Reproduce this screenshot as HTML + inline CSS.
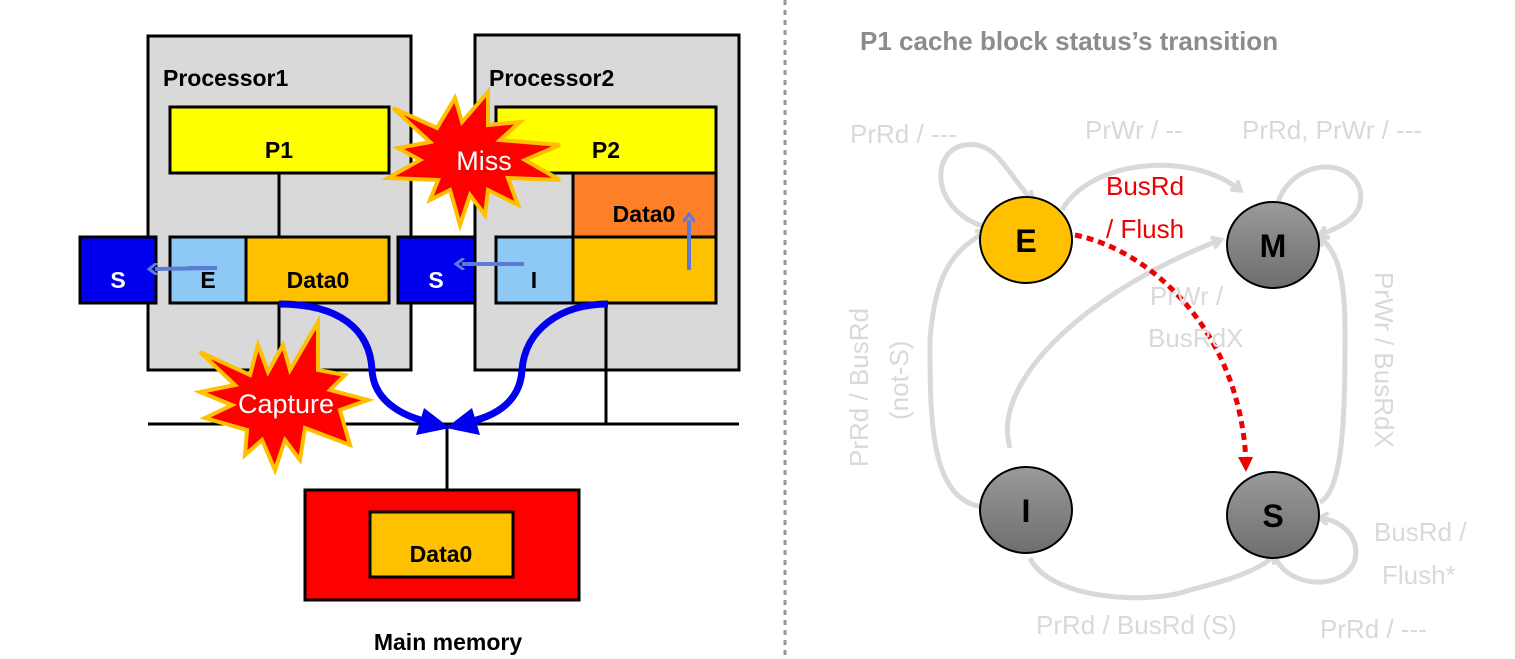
<!DOCTYPE html>
<html><head><meta charset="utf-8"><style>
html,body{margin:0;padding:0;background:#fff;width:1515px;height:659px;overflow:hidden}
svg{display:block}
text{font-family:"Liberation Sans",sans-serif}
</style></head><body>
<svg width="1515" height="659" viewBox="0 0 1515 659">
<defs>
<linearGradient id="g" x1="0" y1="0" x2="0" y2="1"><stop offset="0" stop-color="#9a9a9a"/><stop offset="1" stop-color="#6e6e6e"/></linearGradient>
<marker id="ah" markerWidth="12" markerHeight="12" refX="4" refY="6" orient="auto" markerUnits="userSpaceOnUse"><path d="M10,0 L2,6 L10,12" fill="none" stroke="#5b7bd5" stroke-width="3" transform="rotate(180 6 6)"/></marker>
<marker id="gh" markerWidth="14" markerHeight="14" refX="10" refY="7" orient="auto" markerUnits="userSpaceOnUse"><path d="M2,1 L11,7 L2,13" fill="none" stroke="#d9d9d9" stroke-width="4"/></marker>
</defs>
<rect x="148" y="36" width="263" height="334" fill="#d9d9d9" stroke="#000" stroke-width="3"/>
<rect x="475" y="35" width="264" height="335" fill="#d9d9d9" stroke="#000" stroke-width="3"/>
<text x="163" y="86" font-size="23" font-weight="bold">Processor1</text>
<text x="489" y="86" font-size="23" font-weight="bold">Processor2</text>
<line x1="279" y1="173" x2="279" y2="237" stroke="#000" stroke-width="3"/>
<line x1="279" y1="303" x2="279" y2="424" stroke="#000" stroke-width="3"/>
<line x1="606" y1="303" x2="606" y2="424" stroke="#000" stroke-width="3"/>
<line x1="148" y1="424" x2="739" y2="424" stroke="#000" stroke-width="3"/>
<line x1="447" y1="424" x2="447" y2="490" stroke="#000" stroke-width="3"/>
<rect x="170" y="107" width="219" height="66" fill="#ffff00" stroke="#000" stroke-width="3"/>
<rect x="496" y="107" width="220" height="66" fill="#ffff00" stroke="#000" stroke-width="3"/>
<text x="279" y="158" font-size="23" font-weight="bold" text-anchor="middle">P1</text>
<text x="606" y="158" font-size="23" font-weight="bold" text-anchor="middle">P2</text>
<rect x="573" y="173" width="143" height="65" fill="#fd7f27" stroke="#000" stroke-width="3"/>
<text x="644" y="222" font-size="23" font-weight="bold" text-anchor="middle">Data0</text>
<rect x="80" y="237" width="76" height="66" fill="#0000ee" stroke="#000" stroke-width="3"/>
<rect x="170" y="237" width="76" height="66" fill="#8ec8f4" stroke="#000" stroke-width="3"/>
<rect x="246" y="237" width="143" height="66" fill="#ffc000" stroke="#000" stroke-width="3"/>
<rect x="398" y="237" width="77" height="66" fill="#0000ee" stroke="#000" stroke-width="3"/>
<rect x="496" y="237" width="77" height="66" fill="#8ec8f4" stroke="#000" stroke-width="3"/>
<rect x="573" y="237" width="143" height="66" fill="#ffc000" stroke="#000" stroke-width="3"/>
<text x="118" y="288" font-size="23" font-weight="bold" fill="#fff" text-anchor="middle">S</text>
<text x="436" y="288" font-size="23" font-weight="bold" fill="#fff" text-anchor="middle">S</text>
<text x="208" y="288" font-size="23" font-weight="bold" text-anchor="middle">E</text>
<text x="534" y="288" font-size="23" font-weight="bold" text-anchor="middle">I</text>
<text x="318" y="288" font-size="23" font-weight="bold" text-anchor="middle">Data0</text>
<line x1="137" y1="268" x2="108" y2="268" stroke="#5b7bd5" stroke-width="4" transform="translate(80,0)"/>
<line x1="217" y1="268" x2="155" y2="269" stroke="#5b7bd5" stroke-width="4" marker-end="url(#ah)"/>
<line x1="524" y1="264" x2="462" y2="264" stroke="#5b7bd5" stroke-width="4" marker-end="url(#ah)"/>
<line x1="689" y1="270" x2="689" y2="220" stroke="#5b7bd5" stroke-width="4" marker-end="url(#ah)"/>
<path d="M279,304 C340,304 370,330 372,370 C374,405 410,420 440,424" fill="none" stroke="#0000ee" stroke-width="7"/>
<path d="M608,304 C560,304 525,330 522,370 C520,405 490,420 456,424" fill="none" stroke="#0000ee" stroke-width="7"/>
<path d="M424,408 L450,428 L416,435 Z" fill="#0000ee"/>
<path d="M472,408 L446,428 L480,435 Z" fill="#0000ee"/>
<rect x="305" y="490" width="274" height="110" fill="#ff0000" stroke="#000" stroke-width="3"/>
<rect x="370" y="512" width="143" height="65" fill="#ffc000" stroke="#000" stroke-width="3"/>
<text x="441" y="562" font-size="23" font-weight="bold" text-anchor="middle">Data0</text>
<text x="448" y="650" font-size="23" font-weight="bold" text-anchor="middle">Main memory</text>
<polygon points="393,108 437,128 455,98 462,122 488,92 488,125 520,122 500,140 560,145 525,160 560,180 508,178 518,205 488,190 485,215 470,195 460,225 450,190 430,200 438,180 388,178 420,160 398,148 430,142" fill="#ff0000" stroke="#ffc000" stroke-width="4"/>
<text x="484" y="170" font-size="27" fill="#fff" text-anchor="middle">Miss</text>
<polygon points="200,352 250,375 258,345 268,372 283,345 290,370 318,322 318,370 345,375 330,390 368,400 340,410 350,445 305,428 300,460 285,440 275,470 262,440 245,455 247,430 205,418 232,405 200,392 235,385" fill="#ff0000" stroke="#ffc000" stroke-width="4"/>
<text x="286" y="413" font-size="27" fill="#fff" text-anchor="middle">Capture</text>
<line x1="785" y1="0" x2="785" y2="659" stroke="#999" stroke-width="3" stroke-dasharray="5,5"/>
<text x="860" y="50" font-size="26" font-weight="bold" fill="#8c8c8c">P1 cache block status’s transition</text>
<g fill="none" stroke="#d9d9d9" stroke-width="5">
<path d="M985,227 C930,210 930,150 965,145 C995,140 1005,170 1032,200" marker-end="url(#gh)"/>
<path d="M1062,210 C1090,160 1190,150 1240,190" marker-end="url(#gh)"/>
<path d="M1277,205 C1290,160 1350,155 1360,190 C1365,215 1345,225 1320,235" marker-end="url(#gh)"/>
<path d="M1010,448 C990,380 1090,290 1220,240" marker-end="url(#gh)"/>
<path d="M983,507 C930,500 930,420 930,340 C935,270 955,250 985,232" marker-end="url(#gh)"/>
<path d="M1320,502 C1345,490 1345,400 1345,330 C1345,270 1335,250 1320,237" marker-end="url(#gh)"/>
<path d="M1030,558 C1050,600 1150,605 1190,590 C1230,580 1260,570 1275,555" marker-end="url(#gh)"/>
<path d="M1275,557 C1290,590 1345,590 1355,560 C1360,535 1340,520 1320,518" marker-end="url(#gh)"/>
</g>
<ellipse cx="1026" cy="240" rx="46" ry="43" fill="#ffc000" stroke="#000" stroke-width="2"/>
<ellipse cx="1273" cy="245" rx="46" ry="43" fill="url(#g)" stroke="#000" stroke-width="2"/>
<ellipse cx="1026" cy="510" rx="46" ry="43" fill="url(#g)" stroke="#000" stroke-width="2"/>
<ellipse cx="1273" cy="515" rx="46" ry="43" fill="url(#g)" stroke="#000" stroke-width="2"/>
<g font-size="32" font-weight="bold" text-anchor="middle">
<text x="1026" y="252">E</text><text x="1273" y="257">M</text><text x="1026" y="522">I</text><text x="1273" y="527">S</text>
</g>
<path d="M1075,235 C1150,250 1240,330 1246,462" fill="none" stroke="#ee0000" stroke-width="5" stroke-dasharray="7,5"/>
<path d="M1238,457 L1246,472 L1253,457 Z" fill="#ee0000"/>
<g font-size="26" fill="#d9d9d9">
<text x="850" y="143">PrRd / ---</text>
<text x="1085" y="139">PrWr / --</text>
<text x="1242" y="139">PrRd, PrWr / ---</text>
<text x="1150" y="305">PrWr /</text>
<text x="1148" y="347">BusRdX</text>
<text x="1036" y="634">PrRd / BusRd (S)</text>
<text x="1320" y="638">PrRd / ---</text>
<text x="1374" y="541">BusRd /</text>
<text x="1382" y="584">Flush*</text>
<text transform="translate(868,467) rotate(-90)">PrRd / BusRd</text>
<text transform="translate(908,420) rotate(-90)">(not-S)</text>
<text transform="translate(1375,272) rotate(90)">PrWr / BusRdX</text>
</g>
<text x="1106" y="195" font-size="26" fill="#ee0000">BusRd</text>
<text x="1106" y="238" font-size="26" fill="#ee0000">/ Flush</text>
</svg>
</body></html>
